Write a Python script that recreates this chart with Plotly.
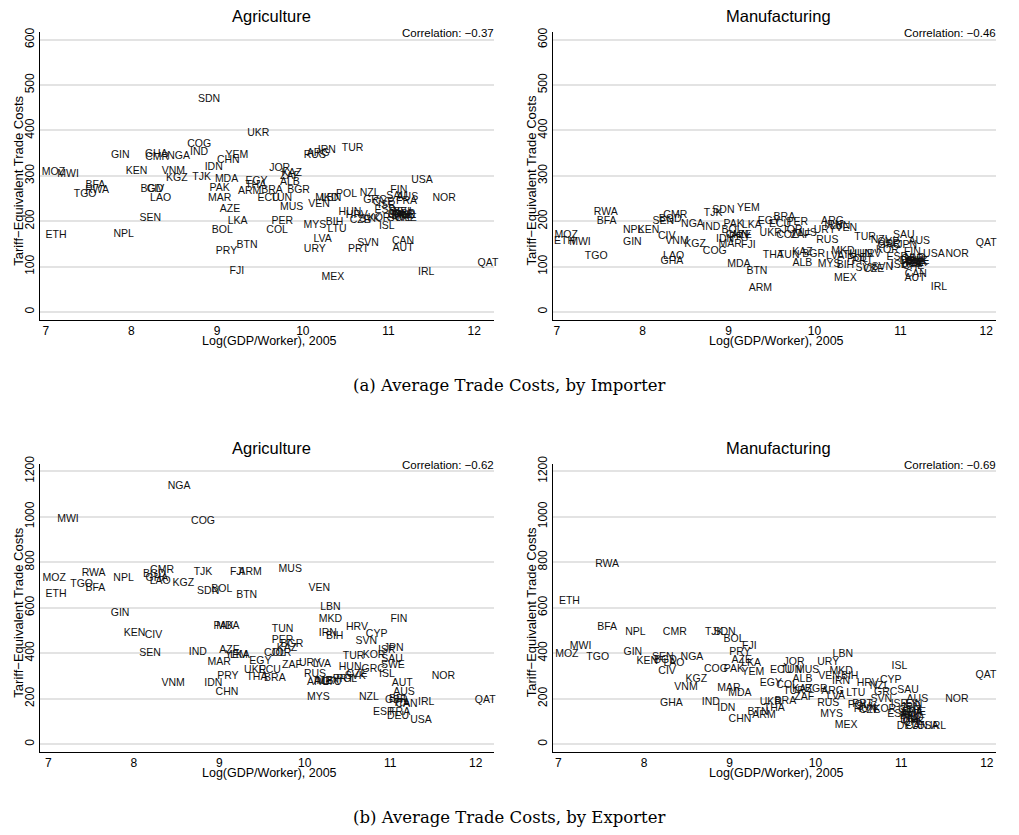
import plotly.graph_objects as go

# ---------------- data ----------------
# (a) by importer, agriculture
imp_ag_codes = ["MOZ","MWI","ETH","TGO","BFA","RWA","GIN","KEN","NPL","SEN","GHA","CMR","NGA","BGD","CIV","LAO",
                "VNM","KGZ","TJK","SDN","COG","IND","IDN","CHN","YEM","MDA","PAK","MAR","AZE","LKA","BOL","BTN",
                "PRY","FJI","UKR","EGY","THA","ARM","BRA","JOR","KAZ","ZAF","ALB","BGR","ECU","TUN","MUS","PER",
                "COL","ARG","IRN","RUS","TUR","VEN","MKD","LBN","POL","NZL","HUN","HRV","CZE","SVK","KOR","BIH",
                "LTU","MYS","LVA","URY","MEX","SVN","PRT","GRC","CYP","ISR","ESP","ISL","FIN","SAU","AUS","FRA",
                "DEU","ITA","JPN","GBR","SWE","CHE","DNK","NLD","BEL","USA","NOR","CAN","AUT","IRL","QAT"]
imp_ag_x = [7.09,7.26,7.12,7.46,7.58,7.60,7.87,8.06,7.91,8.22,8.29,8.30,8.55,8.24,8.28,8.34,
            8.49,8.53,8.82,8.905,8.79,8.79,8.96,9.13,9.23,9.11,9.03,9.03,9.15,9.24,9.06,9.35,
            9.11,9.23,9.48,9.46,9.45,9.38,9.64,9.73,9.87,9.85,9.85,9.95,9.60,9.75,9.87,9.76,
            9.70,10.18,10.28,10.14,10.58,10.19,10.28,10.33,10.51,10.78,10.55,10.63,10.67,10.78,10.89,10.37,
            10.40,10.14,10.23,10.14,10.35,10.76,10.65,10.84,10.94,10.98,10.96,10.98,11.12,11.10,11.22,11.21,
            11.14,11.08,11.12,11.18,11.13,11.20,11.16,11.19,11.17,11.39,11.65,11.17,11.17,11.44,12.16]
imp_ag_y = [308,303,170,260,280,269,346,309,171,207,348,341,344,270,270,250,
            311,294,297,468,370,352,318,334,345,292,272,250,226,199,181,146,
            133,90,393,287,280,265,268,316,306,298,285,268,250,250,230,199,
            181,350,356,345,361,237,250,250,259,261,219,212,201,205,207,197,
            183,190,161,138,77,152,137,245,241,234,223,188,268,254,252,243,
            219,214,212,216,206,207,210,212,220,290,250,155,140,88,108]

# (a) by importer, manufacturing
imp_mf_codes = ["RWA","BFA","MOZ","ETH","MWI","TGO","NPL","KEN","GIN","SEN","BGD","CMR","CIV","NGA","IND","VNM",
                "KGZ","COG","LAO","GHA","TJK","SDN","YEM","PAK","LKA","BOL","IDN","CHN","AZE","PRY","MAR","FJI",
                "MDA","BTN","ARM","EGY","BRA","ECU","PER","UKR","JOR","COL","ZAF","MUS","ARG","IRN","LBN","VEN",
                "URY","RUS","TUR","NZL","SAU","AUS","GRC","CYP","ISR","JPN","KOR","THA","TUN","KAZ","BGR","ALB",
                "MKD","LVA","LTU","MYS","BIH","POL","PRT","HUN","HRV","CZE","SVK","SVN","ESP","FIN","ISL","DEU",
                "FRA","GBR","ITA","SWE","BEL","NLD","DNK","CHE","USA","NOR","QAT","CAN","AUT","IRL","MEX"]
imp_mf_x = [7.57,7.58,7.11,7.09,7.27,7.46,7.89,8.07,7.88,8.24,8.32,8.38,8.28,8.58,8.80,8.40,
            8.61,8.84,8.36,8.34,8.82,8.94,9.23,9.06,9.27,9.04,8.96,9.10,9.15,9.13,9.02,9.23,
            9.12,9.33,9.37,9.47,9.65,9.60,9.80,9.49,9.74,9.68,9.84,9.89,10.21,10.22,10.30,10.37,
            10.12,10.15,10.59,10.77,11.04,11.22,10.87,10.86,10.90,11.08,10.85,9.52,9.70,9.86,9.99,9.86,
            10.33,10.24,10.38,10.17,10.36,10.50,10.56,10.54,10.65,10.69,10.60,10.79,10.96,11.14,10.98,11.12,
            11.18,11.14,11.16,11.20,11.13,11.17,11.19,11.15,11.39,11.66,12.00,11.18,11.17,11.45,10.36]
imp_mf_y = [219,199,168,156,153,122,179,181,153,199,205,213,166,194,186,156,
            150,133,122,111,218,223,229,194,190,179,161,168,168,164,148,146,
            106,90,53,199,208,194,197,174,181,168,168,174,199,190,188,184,
            181,157,164,157,170,155,146,153,150,146,135,124,124,131,128,108,
            133,122,124,106,103,116,112,128,128,95,96,99,121,131,103,112,
            108,116,104,112,106,118,110,100,127,128,152,84,75,54,75]

# (b) by exporter, agriculture
exp_ag_codes = ["NGA","MWI","COG","MOZ","RWA","NPL","TGO","BFA","ETH","GIN","BGD","CMR","GHA","LAO","TJK","FJI",
                "ARM","MUS","KGZ","SDN","BOL","BTN","PAK","MDA","KEN","CIV","SEN","IND","AZE","YEM","LKA","MAR",
                "PRY","IDN","CHN","VNM","EGY","UKR","THA","ECU","BRA","ZAF","TUN","PER","BGR","KAZ","COL","JOR",
                "URY","LVA","RUS","ARG","ALB","LTU","MEX","POL","PRT","CZE","SVK","VEN","LBN","MKD","IRN","BIH",
                "HRV","CYP","SVN","TUR","KOR","JPN","ISR","SAU","SWE","HUN","GRC","ISL","FIN","NOR","AUT","AUS",
                "MYS","NZL","GBR","BEL","CAN","ITA","IRL","QAT","ESP","FRA","DEU","USA"]
exp_ag_x = [8.53,7.23,8.81,7.07,7.53,7.88,7.39,7.55,7.09,7.84,8.24,8.33,8.27,8.31,8.81,9.21,
            9.36,9.83,8.58,8.87,9.03,9.32,9.05,9.10,8.01,8.23,8.19,8.75,9.12,9.20,9.24,9.00,
            9.10,8.93,9.09,8.46,9.48,9.42,9.44,9.59,9.65,9.85,9.74,9.74,9.85,9.79,9.65,9.72,
            10.06,10.20,10.12,10.16,10.22,10.32,10.27,10.49,10.45,10.61,10.59,10.17,10.30,10.30,10.27,10.35,
            10.61,10.84,10.72,10.57,10.81,11.04,10.96,11.02,11.03,10.53,10.80,10.96,11.10,11.62,11.14,11.16,
            10.16,10.75,11.07,11.10,11.19,11.14,11.42,12.11,10.92,11.11,11.09,11.36]
exp_ag_y = [1132,990,980,730,752,730,701,686,657,577,747,762,728,715,757,757,
            757,769,708,672,682,653,518,518,489,479,399,403,413,392,390,358,
            297,266,229,268,363,323,294,323,290,345,505,457,440,420,399,399,
            355,352,305,273,275,273,275,283,283,305,300,686,602,549,489,474,
            512,483,450,387,392,421,414,374,348,338,329,305,549,297,266,228,
            206,206,193,195,174,180,184,193,138,138,120,106]

# (b) by exporter, manufacturing
exp_mf_codes = ["RWA","ETH","BFA","NPL","CMR","MWI","MOZ","TGO","GIN","KEN","SEN","BGD","LAO","NGA","CIV","KGZ",
                "VNM","GHA","COG","TJK","SDN","BOL","FJI","PRY","AZE","LKA","PAK","YEM","MAR","MDA","IND","IDN",
                "CHN","BTN","ARM","LBN","URY","JOR","ECU","TUN","MUS","ALB","VEN","MKD","IRN","BIH","EGY","COL",
                "KAZ","BGR","TUR","ZAF","ARG","LVA","LTU","RUS","MYS","MEX","UKR","BRA","THA","HRV","NZL","CYP",
                "ISL","GRC","SAU","AUS","NOR","QAT","SVN","POL","PRT","HUN","CZE","SVK","KOR","ISR","FIN","ESP",
                "GBR","FRA","JPN","AUT","SWE","BEL","NLD","DNK","CHE","ITA","DEU","CAN","USA","IRL"]
exp_mf_x = [7.57,7.13,7.57,7.90,8.36,7.26,7.10,7.46,7.87,8.04,8.22,8.25,8.35,8.56,8.27,8.61,
            8.49,8.32,8.84,8.82,8.94,9.05,9.23,9.12,9.14,9.25,9.05,9.27,8.99,9.12,8.78,8.96,
            9.12,9.33,9.40,10.32,10.15,9.75,9.60,9.72,9.91,9.85,10.16,10.30,10.30,10.40,9.48,9.67,
            9.85,10.01,9.75,9.87,10.20,10.24,10.47,10.15,10.19,10.36,9.48,9.65,9.52,10.61,10.75,10.88,
            10.98,10.82,11.08,11.19,11.65,11.99,10.77,10.50,10.55,10.58,10.63,10.60,10.81,10.98,11.15,10.96,
            11.10,11.13,11.11,11.12,11.15,11.10,11.14,11.12,11.15,11.11,11.08,11.18,11.31,11.43]
exp_mf_y = [791,628,512,490,490,432,396,381,403,363,381,370,355,381,319,287,
            251,181,331,493,493,460,432,403,370,355,331,316,246,225,185,157,
            111,138,125,394,360,360,323,326,326,283,297,322,276,297,268,258,
            239,239,232,207,232,210,225,178,131,83,184,189,157,268,254,279,
            341,229,236,196,196,302,196,171,174,152,149,160,152,174,174,131,
            150,140,160,130,140,120,115,105,95,110,80,80,80,80]

panel_titles = ["Agriculture", "Manufacturing", "Agriculture", "Manufacturing"]
correlations = ["\u22120.37", "\u22120.46", "\u22120.62", "\u22120.69"]
captions = ["(a) Average Trade Costs, by Importer", "(b) Average Trade Costs, by Exporter"]
x_ticks = [7, 8, 9, 10, 11, 12]
y_ticks_top = [0, 100, 200, 300, 400, 500, 600]
y_ticks_bottom = [0, 200, 400, 600, 800, 1000, 1200]

# ---------------- layout geometry (pixels) ----------------
W, H = 1019, 835
SANS = "Liberation Sans, Arial, Helvetica, sans-serif"

def px_x(p):
    return p / W

def px_y(p):
    return 1 - p / H

panels = [
    (imp_ag_codes, imp_ag_x, imp_ag_y, (40, 494), (24, 315), (6.933, 12.231), (-17.5, 617.5), y_ticks_top),
    (imp_mf_codes, imp_mf_x, imp_mf_y, (552.7, 996), (24, 315), (6.953, 12.113), (-17.5, 617.5), y_ticks_top),
    (exp_ag_codes, exp_ag_x, exp_ag_y, (40, 494), (460, 751), (6.903, 12.213), (-33.5, 1233.5), y_ticks_bottom),
    (exp_mf_codes, exp_mf_x, exp_mf_y, (552.7, 996), (460, 751), (6.935, 12.107), (-33.5, 1233.5), y_ticks_bottom),
]

fig = go.Figure()
layout = dict(
    width=W, height=H,
    margin=dict(l=0, r=0, t=0, b=0),
    paper_bgcolor="white", plot_bgcolor="white",
    showlegend=False,
    font=dict(family=SANS, color="black"),
)
annotations = []

for i, (codes, xs, ys, xd, yd, xr, yr, yt) in enumerate(panels):
    n = i + 1
    xa = "x" if n == 1 else f"x{n}"
    ya = "y" if n == 1 else f"y{n}"
    fig.add_trace(go.Scatter(
        x=xs, y=ys, text=codes, mode="text",
        textposition="middle center",
        textfont=dict(family=SANS, size=10.5, color="#111111"),
        xaxis=xa, yaxis=ya, cliponaxis=False, hoverinfo="text",
    ))
    xkey = "xaxis" if n == 1 else f"xaxis{n}"
    ykey = "yaxis" if n == 1 else f"yaxis{n}"
    layout[xkey] = dict(
        domain=[px_x(xd[0]), px_x(xd[1])], range=list(xr), anchor=ya,
        tickmode="array", tickvals=x_ticks, ticktext=[str(v) for v in x_ticks],
        showgrid=False, zeroline=False, showline=True, linecolor="black", linewidth=1.2,
        ticks="",
        tickfont=dict(family=SANS, size=12, color="black"),
    )
    layout[ykey] = dict(
        domain=[px_y(yd[1]), px_y(yd[0])], range=list(yr), anchor=xa,
        tickmode="array", tickvals=yt, ticktext=[str(v) for v in yt], tickangle=-90,
        showgrid=True, gridcolor="#e3e3e3", gridwidth=1.6,
        zeroline=False, showline=True, linecolor="black", linewidth=1.2,
        ticks="",
        tickfont=dict(family=SANS, size=12, color="black"),
    )
    # panel title
    annotations.append(dict(
        text=panel_titles[i], x=px_x((xd[0] + xd[1]) / 2 + 4), y=px_y(yd[0] - 16),
        xref="paper", yref="paper", xanchor="center", yanchor="middle",
        showarrow=False, font=dict(family=SANS, size=16.5, color="black")))
    # correlation
    annotations.append(dict(
        text="Correlation: " + correlations[i], x=px_x(xd[1] + 2), y=px_y(yd[0] + 1),
        xref="paper", yref="paper", xanchor="right", yanchor="middle",
        showarrow=False, font=dict(family=SANS, size=11.5, color="black")))
    # y axis title
    annotations.append(dict(
        text="Tariff\u2212Equivalent Trade Costs", x=px_x(xd[0] - 21), y=px_y((yd[0] + yd[1]) / 2 + 5),
        xref="paper", yref="paper", xanchor="center", yanchor="middle", textangle=-90,
        showarrow=False, font=dict(family=SANS, size=13, color="black")))
    # x axis title
    annotations.append(dict(
        text="Log(GDP/Worker), 2005", x=px_x((xd[0] + xd[1]) / 2 + 2), y=px_y(yd[1] + 21),
        xref="paper", yref="paper", xanchor="center", yanchor="middle",
        showarrow=False, font=dict(family=SANS, size=12.5, color="black")))

for j, cap in enumerate(captions):
    annotations.append(dict(
        text=cap, x=px_x(509), y=px_y([381, 817][j]),
        xref="paper", yref="paper", xanchor="center", yanchor="middle",
        showarrow=False, font=dict(family="DejaVu Serif, serif", size=16.5, color="black")))

layout["annotations"] = annotations
fig.update_layout(**layout)
fig.write_html("out.html")
